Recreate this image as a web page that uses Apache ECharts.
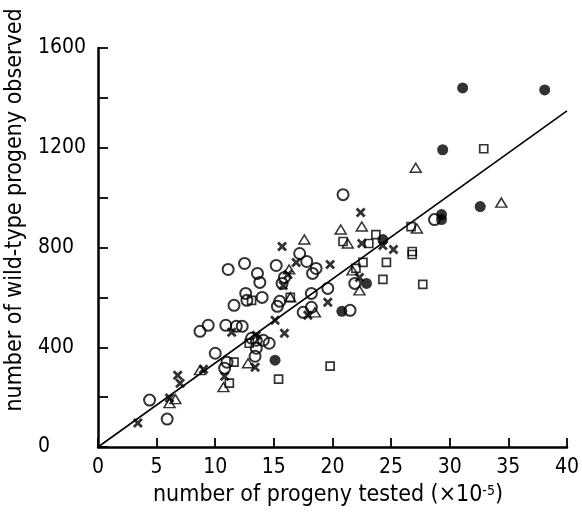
<!DOCTYPE html>
<html lang="en" style="height: 100%">
<head>
  <meta charset="utf-8">
  <script type="text/javascript" src="https://cdn.jsdelivr.net/npm/echarts@6/dist/echarts.min.js"></script>
</head>
<body style="height: 100%; margin: 0; background: #fff">
  <div id="main" style="height: 512px; width: 582px"></div>

  <script type="text/javascript">
    // values: [progeny tested (x10^-5), wild-type observed]
    var openCircles = [
      [20.9,1012],[17.2,776],[17.8,744],[15.2,728],[18.6,716],[18.3,696],[13.6,696],[13.8,660],
      [15.9,680],[15.7,656],[14.0,600],[15.5,584],[15.3,564],[18.2,616],[19.6,636],[21.9,656],
      [21.5,548],[17.5,540],[18.2,560],[11.1,712],[12.5,736],[12.6,616],[12.7,588],[11.6,568],
      [8.7,464],[9.4,488],[10.9,488],[11.8,484],[12.3,484],[10.0,376],[11.0,340],[10.8,316],
      [13.1,436],[13.5,428],[14.1,428],[14.6,416],[13.5,396],[13.4,364],[4.4,188],[5.9,112],
      [28.7,912]
    ];
    var filledCircles = [
      [31.1,1440],[38.1,1432],[29.4,1192],[29.3,932],[29.3,912],[32.6,964],[24.3,832],
      [22.9,656],[20.8,544],[15.1,348]
    ];
    var squares = [
      [32.9,1196],[26.7,884],[23.7,852],[23.1,816],[20.9,824],[26.8,784],[26.8,772],[22.6,740],
      [24.6,740],[22.0,716],[24.3,672],[27.7,652],[16.4,600],[13.1,588],[11.6,340],[11.2,256],
      [15.4,272],[19.8,324],[12.9,416]
    ];
    var triangles = [
      [27.1,1120],[34.4,980],[22.5,884],[27.2,876],[20.7,872],[21.3,816],[17.6,832],[16.3,712],
      [21.7,708],[22.3,628],[18.5,540],[12.8,336],[10.7,240],[16.4,600],[8.7,308],[6.1,176],
      [6.6,192]
    ];
    var crosses = [
      [22.4,940],[15.7,804],[16.9,740],[19.8,732],[22.5,816],[24.3,808],[25.2,792],[16.2,692],
      [15.8,648],[19.6,580],[22.3,680],[17.9,528],[15.1,508],[15.9,456],[13.5,448],[13.4,320],
      [10.8,284],[9.0,312],[11.4,460],[3.4,96],[6.1,196],[6.8,288],[7.0,256]
    ];
    var fitLine = [[0,0],[40,1348]];

    var xTicks = { min: 0, max: 40, step: 5 };
    var yTicks = { min: 0, max: 1600, step: 200, labelEvery: 400 };

    var font = "'DejaVu Sans Condensed', 'Liberation Sans Narrow', 'DejaVu Sans', sans-serif";
    var crossPath = 'path://M0,2L2,0L5,3L8,0L10,2L7,5L10,8L8,10L5,7L2,10L0,8L3,5Z';

    var chart = echarts.init(document.getElementById('main'));
    var option = {
      backgroundColor: '#fff',
      animation: false,
      grid: { left: 98, right: 14, top: 48, bottom: 65 },
      xAxis: {
        type: 'value',
        min: xTicks.min, max: xTicks.max, interval: xTicks.step,
        splitLine: { show: false },
        axisLine: { lineStyle: { color: '#000', width: 2.5 } },
        axisTick: { inside: true, length: 9, lineStyle: { color: '#000', width: 1.8 } },
        axisLabel: { color: '#000', fontFamily: font, fontSize: 21, margin: 10 }
      },
      yAxis: {
        type: 'value',
        min: yTicks.min, max: yTicks.max, interval: yTicks.step,
        splitLine: { show: false },
        axisLine: { show: true, lineStyle: { color: '#000', width: 2.5 } },
        axisTick: { show: true, inside: true, length: 10, lineStyle: { color: '#000', width: 1.8 } },
        axisLabel: {
          color: '#000', fontFamily: font, fontSize: 21, align: 'left', margin: 60,
          formatter: function (v) { return v % yTicks.labelEvery === 0 ? String(v) : ''; }
        }
      },
      graphic: [
        {
          type: 'text', x: 328, y: 484,
          style: {
            text: 'number of progeny tested (\u00d710{sup|-5})',
            font: '23px ' + font, fill: '#000', align: 'center', verticalAlign: 'top',
            rich: { sup: { fontSize: 14, fontFamily: font, verticalAlign: 'top', padding: [0, 0, 9, 0] } }
          }
        },
        {
          type: 'text', x: 4, y: 210, rotation: Math.PI / 2,
          style: {
            text: 'number of wild-type progeny observed',
            font: '23px ' + font, fill: '#000', align: 'center', verticalAlign: 'top'
          }
        }
      ],
      series: [
        {
          type: 'line', data: fitLine, symbol: 'none',
          lineStyle: { color: '#000', width: 1.6 }, z: 1
        },
        {
          type: 'scatter', data: openCircles, symbol: 'circle', symbolSize: 11,
          itemStyle: { color: 'rgba(255,255,255,0)', borderColor: '#000', borderWidth: 2 }
        },
        {
          type: 'scatter', data: filledCircles, symbol: 'circle', symbolSize: 11,
          itemStyle: { color: '#000' }
        },
        {
          type: 'scatter', data: squares, symbol: 'rect', symbolSize: 8,
          itemStyle: { color: 'rgba(255,255,255,0)', borderColor: '#000', borderWidth: 1.7 }
        },
        {
          type: 'scatter', data: triangles, symbol: 'triangle', symbolSize: [11, 9],
          itemStyle: { color: 'rgba(255,255,255,0)', borderColor: '#000', borderWidth: 1.5 }
        },
        {
          type: 'scatter', data: crosses, symbol: crossPath, symbolSize: 10,
          itemStyle: { color: '#000' }
        }
      ]
    };
    chart.setOption(option);
  </script>
</body>
</html>
